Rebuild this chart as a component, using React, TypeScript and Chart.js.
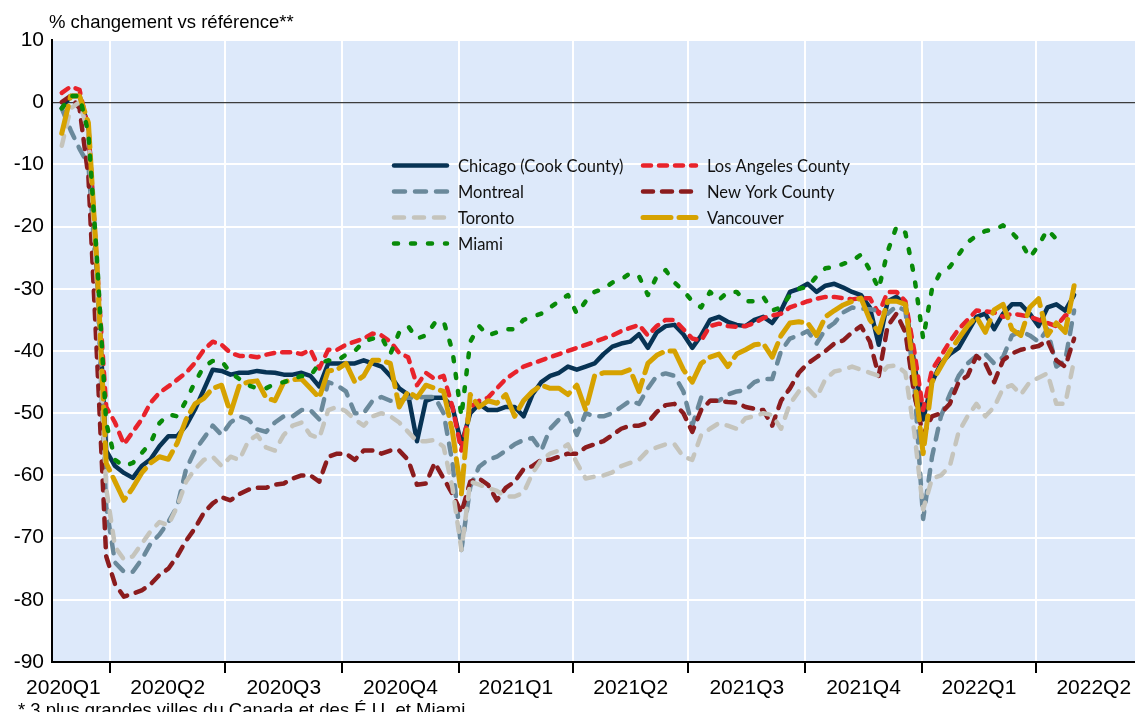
import React, { useEffect, useRef } from 'react';
import { Chart, registerables } from 'chart.js';

Chart.register(...registerables);

// x values: weekly observations, expressed in days since 2020-01-01
const FIRST_DAY = 53;
const STEP_DAYS = 7;

const QUARTER_LABELS = ['2020Q1', '2020Q2', '2020Q3', '2020Q4', '2021Q1', '2021Q2', '2021Q3', '2021Q4', '2022Q1', '2022Q2'];
const QUARTER_STARTS = [0, 91, 182, 274, 366, 456, 547, 639, 731, 821, 912];
const X_MIN = 45.3;
const X_MAX = 899;

const Y_TICKS = [10, 0, -10, -20, -30, -40, -50, -60, -70, -80, -90];

const TITLE = '% changement vs référence**';
const FOOTNOTE = '* 3 plus grandes villes du Canada et des É.U. et Miami';

const CHICAGO = [
  -1, 1, 1, -4, -28, -56, -58.5, -59.6, -60.4, -58.5,
  -57.4, -55.3, -53.7, -53.7, -52, -49.4, -46.2, -43, -43.2, -43.8,
  -43.5, -43.5, -43.2, -43.4, -43.5, -43.8, -43.8, -43.5, -44, -45.7,
  -42, -42, -42, -42, -41.5, -42, -42.5, -44, -46, -47,
  -54.5, -48, -47.5, -47.5, -49, -55, -50, -48.5, -49.5, -49.5,
  -49, -49, -50.5, -47, -45, -44, -43.5, -42.5, -43, -42.5,
  -42, -40.5, -39.3, -38.8, -38.5, -37.3, -39.5, -37, -36, -35.8,
  -37.3, -39.5, -37.5, -35, -34.5, -35.3, -35.8, -36, -35, -34.5,
  -35.5, -33.5, -30.5, -30, -29.2, -30.5, -29.5, -29.2, -29.8, -30.5,
  -31, -33, -39, -32, -31.3, -32.5, -42, -51, -45, -42,
  -40.5, -39.5, -37, -34.5, -34, -36.5, -34, -32.5, -32.5, -34,
  -36, -33, -32.5, -33.5, -31,
];

const LOS_ANGELES = [
  1.5, 2.5, 2, -4.4, -27, -49, -51.5, -55, -53, -51,
  -48.3, -46.7, -45.7, -44.6, -43.5, -41.9, -39.8, -38.5, -39, -40.3,
  -40.8, -40.8, -41, -40.6, -40.3, -40.2, -40.2, -40.5, -39.8, -42.8,
  -39.8, -39.8, -39, -38.5, -38, -37.2, -37.5, -38.5, -40.3, -41,
  -45.5, -43.5, -44.5, -44, -49, -56, -49, -48, -47.5, -46,
  -44.5, -43.5, -42.5, -42, -41.5, -41, -40.5, -40, -39.5, -39,
  -38.5, -38, -37.5, -36.8, -36.3, -35.8, -37.5, -36, -35, -35,
  -36.5, -38, -38.3, -36, -35.6, -36, -36.1, -36, -35.5, -34.7,
  -34.3, -34, -33, -32.5, -32, -31.6, -31.3, -31.3, -31.5, -31.7,
  -31.5, -31.5, -34, -30.5, -30.5, -32, -40, -49.5, -43, -40.8,
  -38.5, -36.5, -35, -33.5, -33.6, -33.8, -34.5, -34, -34.2, -34.5,
  -35, -35.5, -36, -34.3, -34,
];

const MONTREAL = [
  -1, -4.5, -7.5, -10, -30, -65, -74, -75.5, -75.5, -73.5,
  -71, -69.5, -67.5, -65, -59, -56, -54, -52, -53.5, -51.5,
  -50.5, -51, -52.6, -53, -51.5, -50.5, -50.5, -49.5, -49.5, -51,
  -45, -45.5, -46.5, -50, -50, -48, -47.4, -48, -48, -47.5,
  -47.5, -47.4, -47.4, -50, -58, -72, -61.8, -58.6, -57.5, -57,
  -56, -55, -54.3, -54, -56, -52.5, -51, -50, -53.5, -50,
  -50.5, -50.5, -50, -49, -48, -48.5, -46, -44, -43.6, -44,
  -46.5, -52, -47.5, -48, -48, -47, -46.5, -46.3, -45, -44.5,
  -44.5, -40, -38, -37.5, -36.8, -38.8, -36.5, -35.5, -33.8, -33,
  -33.2, -33.3, -33.5, -34, -32.8, -33.5, -45, -67, -57, -50.5,
  -47, -44, -42, -40.8, -40.5, -42, -41, -37.5, -36.8, -37.5,
  -38.5, -36.5, -42.5, -41.5, -33.5,
];

const NEW_YORK = [
  0, 1, -1, -12, -42, -73, -77.5, -79.5, -79, -78.5,
  -77.5, -76, -75, -73, -70.5, -68.5, -66, -64.5, -63.5, -64,
  -63, -62.3, -62, -62, -61.5, -61.3, -60.5, -60, -60, -61,
  -57, -56.5, -56.5, -57.5, -56, -56, -56.5, -56, -56, -57.5,
  -61.5, -61.3, -58, -60.5, -63, -66, -61, -60.5, -61.5, -64,
  -62, -61, -59, -58.5, -57.5, -57.5, -57, -56.5, -56.5, -55.5,
  -55, -54.5, -53.5, -52.5, -52, -52, -51.5, -49.8, -48.7, -48.5,
  -50, -53, -49.5, -48, -48, -48.2, -48.3, -49, -49.3, -49.5,
  -52, -48, -46, -43.5, -42, -41, -40, -38.8, -38.3, -37,
  -36, -38.5, -44, -36, -34, -37, -47, -53.5, -50.5, -50,
  -48.5, -45, -44, -40.8, -42, -45, -41.5, -40.4, -39.8, -39.5,
  -39.2, -38.3, -41.5, -42.5, -38,
];

const TORONTO = [
  -7, -1, 0, -5, -30, -62, -71.5, -73.5, -73, -71,
  -69, -67.5, -68, -65, -61, -59, -57.5, -57, -58.5, -57,
  -57.5, -54.5, -53.5, -55.5, -56, -53.5, -52, -51.5, -53.5, -54,
  -49.5, -49, -49.7, -51, -52, -50.5, -50, -50.5, -51.5, -53,
  -54.5, -54.5, -54.3, -55.4, -62, -72, -61, -61.5, -62, -62.5,
  -63.4, -63.4, -62.8, -59.7, -57.5, -56.5, -56, -55, -58, -60.5,
  -60.2, -60, -59.5, -58.5, -58, -57.5, -56, -55.5, -55, -55,
  -57, -57.5, -53.5, -52.5, -51.6, -52, -52.5, -50.8, -50.5, -50,
  -50.3, -52.5, -48.5, -46.5, -46, -47.5, -44.5, -43.3, -43, -42.5,
  -43, -43.5, -44, -42.5, -42.3, -43.5, -53, -65.5, -60.5, -60,
  -58.5, -53, -50.5, -48.5, -50.5, -49, -46, -45.5, -47, -45,
  -44.3, -43.6, -48.5, -48.5, -41.5,
];

const VANCOUVER = [
  -5, 1, 1, -3.3, -27, -58, -61, -64, -62, -59.6,
  -58, -57, -57.4, -54.8, -51, -48.5, -47.6, -46, -45.5, -50,
  -45.5, -45, -44.8, -47.5, -48, -45, -44.6, -44.5, -46, -47.5,
  -43.2, -43, -42, -45, -44, -41.5, -41.5, -42, -49, -46.5,
  -47.5, -45.5, -46, -46.5, -53, -63, -47, -49, -48, -48.4,
  -47, -50.5, -48, -46.5, -45.5, -46, -46, -47, -45.5, -49.5,
  -44, -43.5, -43.5, -43.5, -43, -46.5, -42, -40.7, -40, -40,
  -43, -45, -42, -41, -40.5, -42.5, -40.5, -39.8, -39, -38.8,
  -41, -37.5, -35.5, -35.3, -35.5, -37.5, -34.5, -33.5, -32.6, -32,
  -31.5, -35, -37, -32, -32, -32.5, -44, -56.5, -45, -42.5,
  -40, -38, -36, -34.5, -37, -33.4, -32.5, -36.5, -37.5, -33,
  -31.6, -37.5, -35.5, -37, -29.5,
];

const MIAMI = [
  -1, 1, 1, -5, -26, -51.5, -57.5, -58.5, -58, -56.4,
  -54.8, -51.6, -50.2, -50.5, -48, -45, -42.5, -41.6, -41.6, -43.5,
  -44.5, -45.5, -46, -46, -45.3, -45, -44.5, -44, -44, -42,
  -41.5, -41.6, -40.6, -40, -38.5, -38, -37.7, -40.5, -37, -36,
  -38, -37.5, -35.5, -35.2, -40, -50.5, -38.5, -36, -37.5, -37,
  -36.5, -36.5, -35, -34.5, -34, -33, -32, -31, -34, -32,
  -30.5, -30, -29, -28.5, -27.5, -28, -31, -28, -27, -29,
  -30.3, -32, -33, -30.5, -31.8, -30.5, -30.5, -32, -32, -31.3,
  -33.5, -33, -31, -30, -29.7, -28, -26.7, -26.5, -26, -25.5,
  -24.5, -27, -30, -24, -20, -21, -28, -38, -30, -27.2,
  -26.5, -24.5, -22.5, -21.5, -20.7, -20.5, -19.8, -21, -22.5, -25,
  -23, -20.5, -22, -22.5, null,
];

const SERIES = [
  { label: 'Chicago (Cook County)', values: CHICAGO, color: '#073354', dash: [], cap: 'round', width: 4.5 },
  { label: 'Los Angeles County', values: LOS_ANGELES, color: '#e8232b', dash: [8, 8], cap: 'round', width: 4.5 },
  { label: 'Montreal', values: MONTREAL, color: '#6a899b', dash: [11, 10], cap: 'round', width: 4.5 },
  { label: 'New York County', values: NEW_YORK, color: '#8b1c1e', dash: [10, 9], cap: 'round', width: 4.5 },
  { label: 'Toronto', values: TORONTO, color: '#c5c4bc', dash: [10, 10], cap: 'round', width: 4.5 },
  { label: 'Vancouver', values: VANCOUVER, color: '#d6a200', dash: [28, 8], cap: 'round', width: 5 },
  { label: 'Miami', values: MIAMI, color: '#088a08', dash: [4, 13], cap: 'round', width: 4.5 },
];

const PLOT_BG = '#dde9fa';
const FONT = '"Liberation Sans", Arial, sans-serif';

const LABEL_TICKS = QUARTER_LABELS.map((_, k) =>
  Math.max((QUARTER_STARTS[k] + QUARTER_STARTS[k + 1]) / 2, X_MIN + 9)
);
const GRID_TICKS = QUARTER_STARTS.filter((d) => d > X_MIN && d < X_MAX);

const plotBackground = {
  id: 'plotBackground',
  beforeDraw(chart: any) {
    const { ctx, chartArea: a } = chart;
    ctx.save();
    ctx.fillStyle = PLOT_BG;
    ctx.fillRect(a.left, a.top, a.right - a.left, a.bottom - a.top);
    ctx.restore();
  },
};

const annotations = {
  id: 'annotations',
  afterDraw(chart: any) {
    const { ctx } = chart;
    ctx.save();
    // legend (two columns)
    const colX = [392, 641];
    const rowY0 = 165.5;
    const rowH = 26;
    chart.data.datasets.forEach((ds: any, k: number) => {
      const x0 = colX[k % 2];
      const y = rowY0 + Math.floor(k / 2) * rowH;
      ctx.beginPath();
      ctx.setLineDash(ds.borderDash || []);
      ctx.lineCap = ds.borderCapStyle || 'butt';
      ctx.lineWidth = ds.borderWidth;
      ctx.strokeStyle = ds.borderColor;
      ctx.moveTo(x0 + 2, y);
      ctx.lineTo(x0 + 55, y);
      ctx.stroke();
      ctx.setLineDash([]);
      ctx.fillStyle = '#111';
      ctx.font = '16.5px Lato, "Noto Sans", sans-serif';
      ctx.textAlign = 'left';
      ctx.textBaseline = 'middle';
      ctx.fillText(ds.label, x0 + 66, y + 1);
    });
    // title and footnote
    ctx.fillStyle = '#000';
    ctx.textBaseline = 'alphabetic';
    ctx.font = '18.5px ' + FONT;
    ctx.fillText(TITLE, 49, 27.5);
    ctx.font = '18.5px ' + FONT;
    ctx.fillText(FOOTNOTE, 18, 716);
    ctx.restore();
  },
};

export default function App() {
  const ref = useRef<HTMLCanvasElement>(null);

  useEffect(() => {
    const days = CHICAGO.map((_, i) => FIRST_DAY + i * STEP_DAYS);
    const datasets = SERIES.map((s, k) => ({
      label: s.label,
      data: s.values.map((v, i) => ({ x: days[i], y: v })),
      borderColor: s.color,
      backgroundColor: s.color,
      borderWidth: s.width,
      borderDash: s.dash,
      borderCapStyle: s.cap,
      borderJoinStyle: 'round',
      pointRadius: 0,
      pointHoverRadius: 0,
      tension: 0,
      fill: false,
      spanGaps: false,
      order: SERIES.length - k,
    }));

    Chart.defaults.font.family = FONT;
    Chart.defaults.color = '#000';

    const chart = new Chart(ref.current as HTMLCanvasElement, {
      type: 'line',
      data: { datasets } as any,
      options: {
        responsive: false,
        animation: false,
        events: [],
        layout: { padding: { top: 40, left: 0, right: 0, bottom: 0 } },
        plugins: { legend: { display: false }, tooltip: { enabled: false }, title: { display: false } },
        scales: {
          x: {
            type: 'linear',
            min: X_MIN,
            max: X_MAX,
            afterFit: (s: any) => { s.height = 50; },
            afterBuildTicks: (s: any) => {
              s.ticks = [...GRID_TICKS, ...LABEL_TICKS].sort((a, b) => a - b).map((v) => ({ value: v }));
            },
            grid: {
              color: (c: any) => (GRID_TICKS.includes(c.tick?.value) ? '#ffffff' : 'rgba(0,0,0,0)'),
              tickColor: (c: any) => (GRID_TICKS.includes(c.tick?.value) ? '#000000' : 'rgba(0,0,0,0)'),
              lineWidth: 2,
              tickWidth: 2,
              tickLength: 11,
              drawTicks: true,
            },
            border: { display: true, color: '#000', width: 2 },
            ticks: {
              autoSkip: false,
              maxRotation: 0,
              minRotation: 0,
              padding: 3,
              font: { size: 21, family: FONT },
              color: '#000',
              callback: (v: any) => {
                const k = LABEL_TICKS.indexOf(Number(v));
                return k >= 0 ? QUARTER_LABELS[k] : '';
              },
            },
          },
          y: {
            type: 'linear',
            min: -90,
            max: 10,
            afterFit: (s: any) => { s.width = 52; },
            afterBuildTicks: (s: any) => {
              s.ticks = Y_TICKS.slice().reverse().map((v) => ({ value: v }));
            },
            grid: {
              color: (c: any) => (c.tick?.value === 0 ? '#3c3c3c' : '#ffffff'),
              lineWidth: (c: any) => (c.tick?.value === 0 ? 1.3 : 2),
              drawTicks: false,
            },
            border: { display: true, color: '#000', width: 2 },
            ticks: {
              padding: 8,
              font: { size: 21, family: FONT },
              color: '#000',
              callback: (v: any) => String(v),
            },
          },
        },
      } as any,
      plugins: [plotBackground, annotations],
    });
    return () => chart.destroy();
  }, []);

  return (
    <div style={{ position: 'fixed', left: 0, top: 0, width: 1135, height: 712, background: '#fff' }}>
      <canvas ref={ref} width={1135} height={712} style={{ display: 'block', width: 1135, height: 712 }} />
    </div>
  );
}
